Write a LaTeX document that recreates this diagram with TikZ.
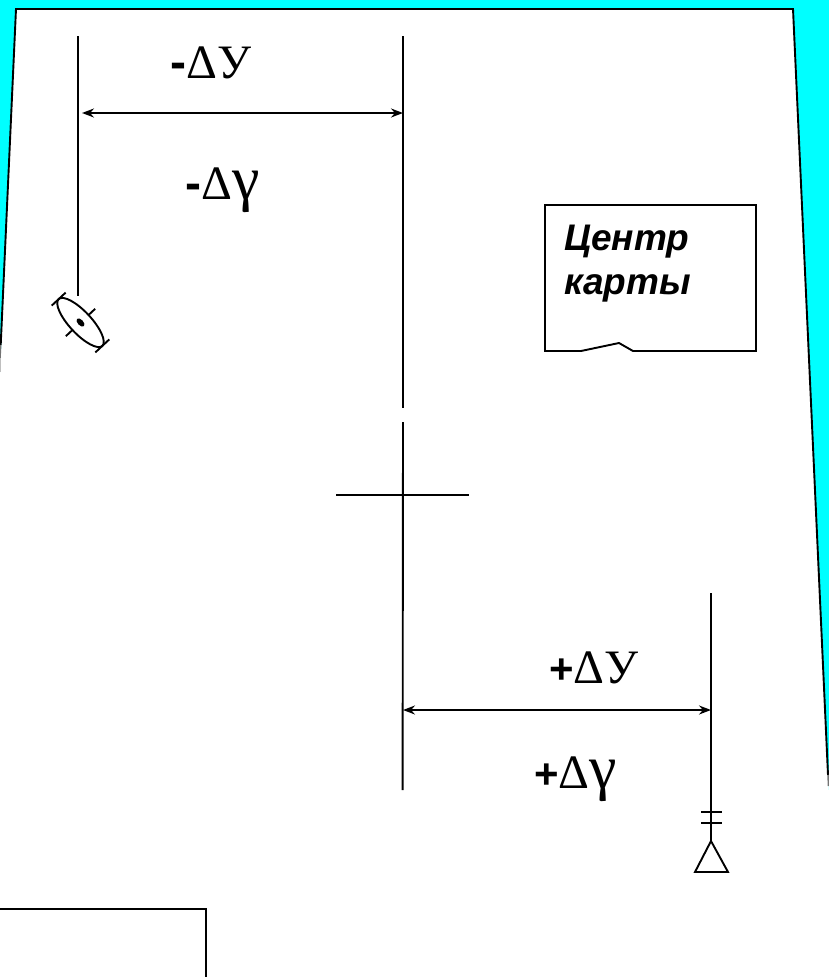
\documentclass[tikz,border=0pt]{standalone}
\usepackage{fontspec}
\setmainfont{Liberation Serif}
\setsansfont{Liberation Sans}
\usetikzlibrary{arrows.meta}
\definecolor{bgcyan}{RGB}{0,255,255}
\tikzset{
  x=1pt,y=-1pt,
  ln/.style={draw=black,line width=1.9pt},
  dim/.style={ln,{Stealth[length=12pt,width=9pt,inset=4pt]}-{Stealth[length=12pt,width=9pt,inset=4pt]}},
  sym/.style={draw=black,line width=1.9pt,line join=miter},
  lab/.style={inner sep=0pt,anchor=base west,font=\fontsize{48}{50}\selectfont},
  card/.style={inner sep=0pt,anchor=base west,font=\sffamily\bfseries\itshape\fontsize{37}{40}\selectfont}
}
\newcommand{\bigsign}[1]{{\fontsize{42}{44}\selectfont\sffamily\bfseries #1}}
\newcommand{\gam}{{\fontsize{62}{62}\selectfont γ}}
\begin{document}
\begin{tikzpicture}
\useasboundingbox (0,0) rectangle (829,977);
\fill[white] (0,0) rectangle (829,977);
\fill[bgcyan] (0,0) -- (829,0) -- (829,790) -- (793,9) -- (16,9) -- (0,372) -- cycle;
\coordinate (tl) at (16,9);
\coordinate (tr) at (793,9);
\coordinate (lb) at (0.7,345);
\coordinate (rb) at (828,775);
\draw[ln] (lb) -- (tl) -- (tr) -- (rb);
\draw[line width=1.5pt,black!55] (lb) -- (0,358);
\draw[line width=1.5pt,black!25] (0,358) -- (0,372);
\draw[line width=1.5pt,black!55] (rb) -- (828.5,786);
% verticals
\coordinate (a1) at (78,36); \coordinate (a2) at (78,296);
\coordinate (b1) at (403,36); \coordinate (b2) at (403,408);
\coordinate (c1) at (403,422); \coordinate (c2) at (402.6,790);
\coordinate (d1) at (711,593); \coordinate (d2) at (711,842);
\coordinate (h1) at (336,495); \coordinate (h2) at (469,495);
\draw[ln] (a1) -- (a2);
\draw[ln] (b1) -- (b2);
\draw[ln] (c1) -- (c2);
\draw[ln] (d1) -- (d2);
\draw[ln] (h1) -- (h2);
% dimension arrows
\coordinate (da) at (82,113); \coordinate (db) at (403,113);
\coordinate (dc) at (403,710); \coordinate (dd) at (711,710);
\draw[dim] (da) -- (db);
\draw[dim] (dc) -- (dd);
% labels
\node[lab] (l1) at (170,78) {{\sffamily\bfseries-}ΔУ};
\node[lab] (l2) at (185,199) {{\sffamily\bfseries-}Δ\gam};
\node[lab] (l3) at (549,683) {\bigsign{+}ΔУ};
\node[lab] (l4) at (534,788) {\bigsign{+}Δ\gam};
% card
\draw[ln] (545,205) -- (756,205) -- (756,351) -- (633,351) -- (619,343) -- (581,351) -- (545,351) -- cycle;
\node[card] (ct) at (564,250) {Центр};
\node[card] (cb) at (564,294) {карты};
% box bottom left
\draw[ln] (0,909) -- (206,909) -- (206,977);
% ellipse symbol
\begin{scope}[shift={(80.5,322.5)},rotate=-47]
\draw[sym] (0,0) ellipse (32pt and 11pt);
\fill (0,0) ellipse (5pt and 2.8pt);
\draw[sym] (-32,-9.5) -- (-32,9.5);
\draw[sym] (32,-9.5) -- (32,9.5);
\draw[sym] (0,-11) -- (0,-20);
\draw[sym] (0,11) -- (0,20);
\end{scope}
% triangle symbol
\draw[sym] (711,841) -- (728,872) -- (695,872) -- cycle;
\draw[sym] (701,812) -- (722,812);
\draw[sym] (701,823) -- (722,823);
\end{tikzpicture}
\end{document}
